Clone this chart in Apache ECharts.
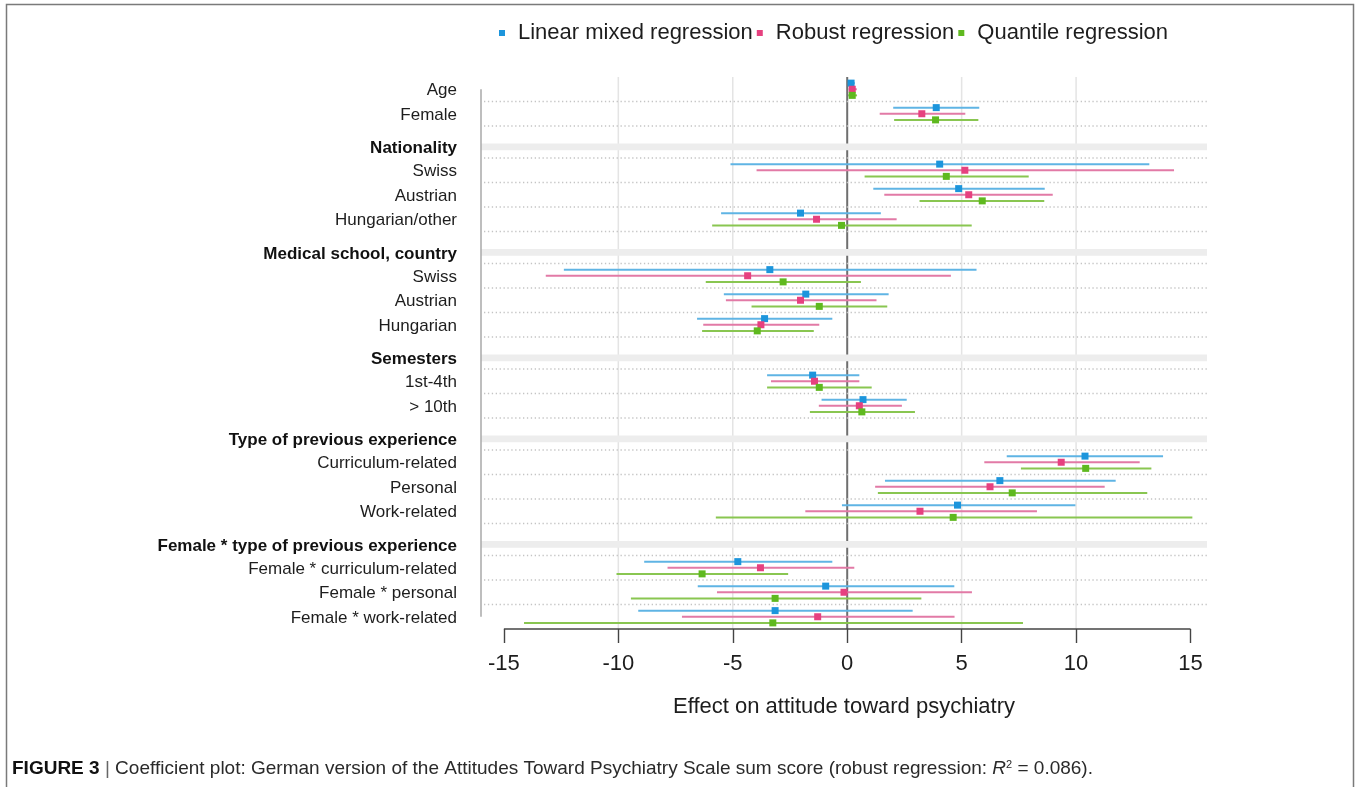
<!DOCTYPE html>
<html>
<head>
<meta charset="utf-8">
<script src="https://cdn.jsdelivr.net/npm/echarts@6/dist/echarts.min.js"></script>
<style>
  html, body { margin: 0; padding: 0; background: #ffffff; }
  #chart { width: 1356px; height: 787px; }
</style>
</head>
<body>
<div id="chart"></div>
<script>
// Row labels from top to bottom; section headings are listed in headingRows.
const rowLabels = [
  'Age', 'Female',
  'Nationality', 'Swiss', 'Austrian', 'Hungarian/other',
  'Medical school, country', 'Swiss', 'Austrian', 'Hungarian',
  'Semesters', '1st-4th', '> 10th',
  'Type of previous experience', 'Curriculum-related', 'Personal', 'Work-related',
  'Female * type of previous experience', 'Female * curriculum-related',
  'Female * personal', 'Female * work-related'
];
const headingRows = [2, 6, 10, 13, 17];

const modelNames = ['Linear mixed regression', 'Robust regression', 'Quantile regression'];

// Coefficients and interval limits, one value per non-heading row.
const linearEst = [0.17, 3.89, 4.04, 4.87, -2.04, -3.38, -1.81, -3.61, -1.51, 0.69, 10.39, 6.67, 4.82, -4.78, -0.94, -3.15];
const linearLo  = [0.03, 2.01, -5.10, 1.14, -5.51, -12.38, -5.39, -6.56, -3.50, -1.12, 6.97, 1.65, -0.23, -8.87, -6.53, -9.13];
const linearHi  = [0.33, 5.77, 13.20, 8.63, 1.47, 5.65, 1.81, -0.65, 0.53, 2.60, 13.80, 11.73, 9.97, -0.65, 4.68, 2.86];

const robustEst = [0.22, 3.26, 5.14, 5.31, -1.34, -4.35, -2.04, -3.77, -1.43, 0.53, 9.35, 6.24, 3.18, -3.79, -0.14, -1.29];
const robustLo  = [0.06, 1.42, -3.96, 1.62, -4.76, -13.17, -5.30, -6.29, -3.33, -1.24, 5.99, 1.22, -1.83, -7.85, -5.69, -7.22];
const robustHi  = [0.42, 5.16, 14.28, 8.98, 2.16, 4.53, 1.28, -1.22, 0.53, 2.39, 12.78, 11.25, 8.29, 0.31, 5.45, 4.69];

const quantileEst = [0.22, 3.86, 4.33, 5.90, -0.25, -2.80, -1.22, -3.93, -1.22, 0.64, 10.42, 7.21, 4.63, -6.34, -3.15, -3.25];
const quantileLo  = [0.04, 2.05, 0.76, 3.16, -5.90, -6.18, -4.18, -6.34, -3.50, -1.63, 7.59, 1.34, -5.74, -10.08, -9.45, -14.12];
const quantileHi  = [0.43, 5.73, 7.93, 8.61, 5.44, 0.60, 1.75, -1.46, 1.07, 2.96, 13.29, 13.11, 15.08, -2.58, 3.24, 7.68];

const xTickValues = [-15, -10, -5, 0, 5, 10, 15];
const xGridValues = [-10, -5, 5, 10];

// ---- layout of the rows along the vertical value axis ----
const ROW_H = 1;
const HEAD_H = 32 / 24.5;        // headings take a little more room
const HEAD_SHIFT = 0.2;          // heading text sits a bit below the middle of its slot
const DODGE = [-0.25, 0, 0.25];  // vertical offset of the three models inside a row

const rowPos = [];
const boundaries = [];
let cursor = 0;
rowLabels.forEach((label, i) => {
  const isHead = headingRows.includes(i);
  const h = isHead ? HEAD_H : ROW_H;
  if (i > 0) boundaries.push(cursor);
  rowPos.push(cursor + h / 2 + (isHead ? HEAD_SHIFT : 0));
  cursor += h;
});
const yTotal = cursor;
const termRows = rowLabels.map((_, i) => i).filter(i => !headingRows.includes(i));
const headingPos = headingRows.map(i => rowPos[i]);

const FONT = "'Liberation Sans', Arial, Helvetica, sans-serif";
const markerColors = ['#1c95dc', '#e6417f', '#5fb91f'];
const lineColors = ['#5fb4e4', '#e27aa6', '#89c651'];

const models = [
  { est: linearEst, lo: linearLo, hi: linearHi },
  { est: robustEst, lo: robustLo, hi: robustHi },
  { est: quantileEst, lo: quantileLo, hi: quantileHi }
];

function labelFor(value) {
  let best = 0, bestD = Infinity;
  rowPos.forEach((p, i) => { const d = Math.abs(p - value); if (d < bestD) { bestD = d; best = i; } });
  const text = rowLabels[best];
  return headingRows.includes(best) ? '{h|' + text + '}' : '{r|' + text + '}';
}

// Background: grid lines, row separators, heading bands and the axis lines.
const frameSeries = {
  type: 'custom',
  name: 'frame',
  silent: true,
  clip: false,
  z: 1,
  data: [[0, 0]],
  encode: { x: 0, y: 1 },
  renderItem: function (params, api) {
    const cs = params.coordSys;
    const children = [];
    xGridValues.forEach(v => {
      const x = api.coord([v, 0])[0];
      children.push({ type: 'line', shape: { x1: x, y1: cs.y, x2: x, y2: cs.y + cs.height },
        style: { stroke: '#e4e4e4', lineWidth: 1.5 } });
    });
    const x0 = api.coord([0, 0])[0];
    children.push({ type: 'line', shape: { x1: x0, y1: cs.y, x2: x0, y2: cs.y + cs.height },
      style: { stroke: '#6f6f6f', lineWidth: 2 } });
    boundaries.forEach(b => {
      const y = api.coord([0, b])[1];
      children.push({ type: 'line', shape: { x1: cs.x + 3, y1: y, x2: cs.x + cs.width, y2: y },
        style: { stroke: '#c4c4c4', lineWidth: 1.3, lineDash: [1.3, 2.6] } });
    });
    headingPos.forEach(p => {
      const y = api.coord([0, p])[1];
      children.push({ type: 'rect', shape: { x: cs.x, y: y - 3.3, width: cs.width, height: 6.6 },
        style: { fill: '#ededed' } });
    });
    const yTop = api.coord([0, rowPos[0]])[1];
    const yBot = api.coord([0, rowPos[rowPos.length - 1]])[1];
    children.push({ type: 'line', shape: { x1: cs.x, y1: yTop, x2: cs.x, y2: yBot },
      style: { stroke: '#a8a8a8', lineWidth: 1.5 } });
    const xa = api.coord([xTickValues[0], 0])[0];
    const xb = api.coord([xTickValues[xTickValues.length - 1], 0])[0];
    const yAxisLine = cs.y + cs.height;
    children.push({ type: 'line', shape: { x1: xa, y1: yAxisLine, x2: xb, y2: yAxisLine },
      style: { stroke: '#444444', lineWidth: 1.4 } });
    return { type: 'group', children: children };
  }
};

const series = [frameSeries];
models.forEach((m, k) => {
  const bars = termRows.map((r, j) => [m.lo[j], m.hi[j], rowPos[r] + DODGE[k]]);
  const pts = termRows.map((r, j) => [m.est[j], rowPos[r] + DODGE[k]]);
  series.push({
    type: 'custom',
    name: modelNames[k],
    z: 2,
    data: bars,
    encode: { x: [0, 1], y: 2 },
    renderItem: function (params, api) {
      const a = api.coord([api.value(0), api.value(2)]);
      const b = api.coord([api.value(1), api.value(2)]);
      return { type: 'line', shape: { x1: a[0], y1: a[1], x2: b[0], y2: b[1] },
        style: { stroke: lineColors[k], lineWidth: 2 } };
    }
  });
  series.push({
    type: 'scatter',
    name: modelNames[k],
    z: 3,
    symbol: 'rect',
    symbolSize: 7,
    itemStyle: { color: markerColors[k], opacity: 1 },
    data: pts
  });
});

const chart = echarts.init(document.getElementById('chart'), null, { renderer: 'canvas' });
chart.setOption({
  animation: false,
  backgroundColor: '#ffffff',
  textStyle: { fontFamily: FONT },
  legend: {
    data: modelNames.map((n, k) => ({ name: n, icon: 'rect', itemStyle: { color: markerColors[k] } })),
    left: 499,
    top: 22,
    padding: 0,
    itemWidth: 6,
    itemHeight: 6,
    itemGap: 4,
    selectedMode: false,
    formatter: name => '{s|}' + name,
    textStyle: {
      fontFamily: FONT, fontSize: 22, color: '#1d1d1d',
      rich: { s: { width: 8 } }
    }
  },
  grid: { left: 481, right: 149, top: 77, bottom: 158 },
  xAxis: {
    type: 'value',
    position: 'bottom',
    min: -16,
    max: 15.72,
    axisLine: { show: false, onZero: false },
    splitLine: { show: false },
    axisTick: { show: true, inside: false, customValues: xTickValues, length: 14, lineStyle: { color: '#444444', width: 1.4 } },
    axisLabel: { customValues: xTickValues, fontSize: 22, color: '#1d1d1d', margin: 24, fontFamily: FONT },
    name: 'Effect on attitude toward psychiatry',
    nameLocation: 'middle',
    nameGap: 67,
    nameTextStyle: { fontSize: 22, color: '#1d1d1d', fontFamily: FONT }
  },
  yAxis: {
    type: 'value',
    inverse: true,
    min: 0,
    max: yTotal,
    axisLine: { show: false },
    axisTick: { show: false },
    splitLine: { show: false },
    axisLabel: {
      customValues: rowPos,
      margin: 24,
      formatter: labelFor,
      rich: {
        r: { fontSize: 17, color: '#1d1d1d', fontFamily: FONT, padding: [3, 0, 0, 0] },
        h: { fontSize: 17, color: '#111111', fontWeight: 'bold', fontFamily: FONT, padding: [3, 0, 0, 0] }
      }
    }
  },
  graphic: [
    {
      type: 'rect',
      silent: true,
      shape: { x: 6.5, y: 4.5, width: 1347, height: 820 },
      style: { fill: 'none', stroke: '#7a7a7a', lineWidth: 1.5 }
    },
    {
      type: 'text',
      left: 12,
      top: 759,
      silent: true,
      style: {
        text: '{b|FIGURE 3} {sep||} Coefficient plot: German version of the Attitudes Toward Psychiatry Scale sum score (robust regression: {i|R}{sup|2} = 0.086).',
        fontFamily: FONT,
        fontSize: 19,
        fill: '#2a2a2a',
        rich: {
          b: { fontWeight: 'bold', fontSize: 19, fill: '#111111', fontFamily: FONT },
          sep: { fontSize: 19, fill: '#666666', fontFamily: FONT },
          i: { fontStyle: 'italic', fontSize: 19, fill: '#2a2a2a', fontFamily: FONT },
          sup: { fontSize: 11, fill: '#2a2a2a', verticalAlign: 'top', padding: [0, 0, 9, 0], fontFamily: FONT }
        }
      }
    }
  ],
  series: series
});
</script>
</body>
</html>
